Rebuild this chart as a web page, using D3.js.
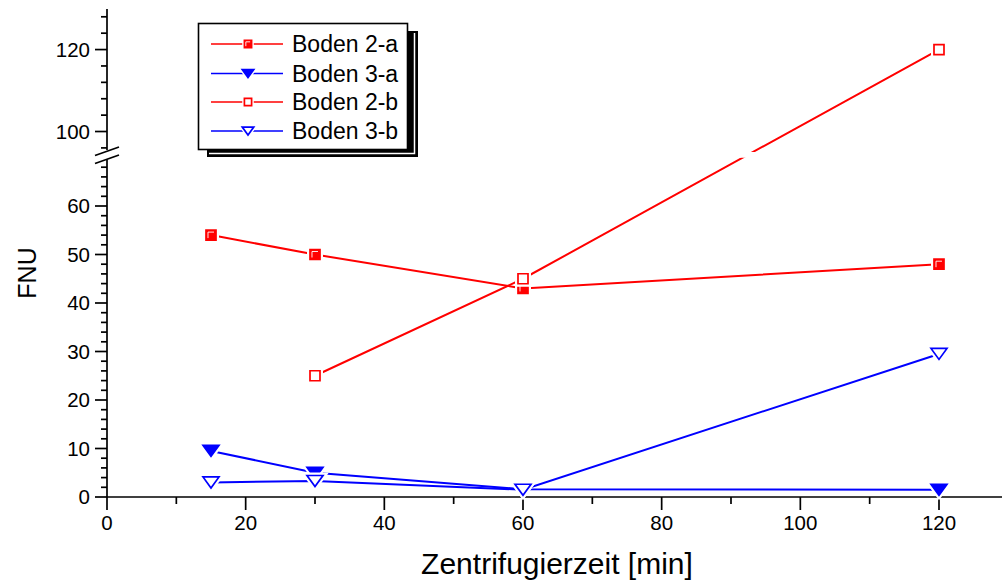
<!DOCTYPE html>
<html>
<head>
<meta charset="utf-8">
<script src="https://cdn.jsdelivr.net/npm/d3@7"></script>
<style>
  html, body { margin: 0; padding: 0; background: #fff; }
  svg { display: block; font-family: "Liberation Sans", Arial, sans-serif; }
</style>
</head>
<body>
<svg id="chart" width="1002" height="581"></svg>
<script>
// Zentrifugierzeit (min) and turbidity (FNU) per soil sample
const times = [15, 30, 60, 120];
const boden2a = [54, 50, 43, 48];
const boden3a = [9.5, 5, 1.6, 1.5];
const times2b = [30, 60, 120];
const boden2b = [25, 45, 120];
const boden3b = [3, 3.3, 1.5, 29.5];

const xTickValues = [0, 20, 40, 60, 80, 100, 120];
const yTickLower = [0, 10, 20, 30, 40, 50, 60];
const yTickUpper = [100, 120];
const legendLabels = ["Boden 2-a", "Boden 3-a", "Boden 2-b", "Boden 3-b"];

const RED = "#ff0000", BLUE = "#0000ff";

const svg = d3.select("#chart");

// x scale, y scale with an axis break between 70 and 95
const x = d3.scaleLinear().domain([0, 130]).range([107, 107 + 130 * 6.9333]);
const y = d3.scaleLinear().domain([0, 70, 95, 130]).range([497, 157.5, 152, 8.6]);

const gapTop = 152, gapBottom = 157.8;

// ---- axes ----
const axes = svg.append("g").attr("stroke", "#000").attr("stroke-width", 1.7);
const x0 = x(0);
// x axis line
axes.append("line").attr("x1", x0).attr("x2", 1002).attr("y1", y(0)).attr("y2", y(0));
// x ticks
d3.range(0, 130, 10).forEach(v => {
  const major = v % 20 === 0;
  axes.append("line").attr("x1", x(v)).attr("x2", x(v))
    .attr("y1", y(0)).attr("y2", y(0) + (major ? 13 : 7));
});
// y axis, lower and upper segments
axes.append("line").attr("x1", x0).attr("x2", x0).attr("y1", y(0)).attr("y2", 159.5);
axes.append("line").attr("x1", x0).attr("x2", x0).attr("y1", 150).attr("y2", 9);
// y ticks lower
d3.range(0, 70, 2).forEach(v => {
  const major = v % 10 === 0;
  axes.append("line").attr("x1", x0).attr("x2", x0 - (major ? 12 : 6))
    .attr("y1", y(v)).attr("y2", y(v));
});
// y ticks upper
d3.range(96, 130, 4).forEach(v => {
  const major = v % 20 === 0;
  axes.append("line").attr("x1", x0).attr("x2", x0 - (major ? 12 : 6))
    .attr("y1", y(v)).attr("y2", y(v));
});
// break marks
axes.append("line").attr("x1", 95).attr("y1", 155.5).attr("x2", 119).attr("y2", 147);
axes.append("line").attr("x1", 95).attr("y1", 163.5).attr("x2", 119).attr("y2", 155);

// tick labels
const lbl = svg.append("g").attr("fill", "#000").attr("font-size", 20.5);
xTickValues.forEach(v => {
  lbl.append("text").attr("x", x(v)).attr("y", 530).attr("text-anchor", "middle").text(v);
});
yTickLower.concat(yTickUpper).forEach(v => {
  lbl.append("text").attr("x", 90).attr("y", y(v) + 7).attr("text-anchor", "end").text(v);
});

// axis titles
svg.append("text").attr("x", 557).attr("y", 574).attr("text-anchor", "middle")
  .attr("font-size", 30).text("Zentrifugierzeit [min]");
svg.append("text").attr("transform", "translate(36,273) rotate(-90)")
  .attr("text-anchor", "middle").attr("font-size", 25).text("FNU");

// ---- data ----
const clip = svg.append("clipPath").attr("id", "brk");
clip.append("rect").attr("x", 0).attr("y", 0).attr("width", 1002).attr("height", gapTop);
clip.append("rect").attr("x", 0).attr("y", gapBottom).attr("width", 1002).attr("height", 581 - gapBottom);

const line = d3.line().x(d => x(d[0])).y(d => y(d[1]));

// marker shapes
function markerPath(type, s) {
  if (type === "tri") {
    const w = 8 * s, h = 5.5 * s;
    return `M${-w},${-h}L${w},${-h}L0,${h}Z`;
  }
  const w = 5 * s, h = 5 * s;
  return `M${-w},${-h}H${w}V${h}H${-w}Z`;
}

function drawMarker(g, type, filled, color, cx, cy, s) {
  // white halo keeps the connecting line off the marker
  g.append("path").attr("d", markerPath(type, s)).attr("transform", `translate(${cx},${cy})`)
    .attr("fill", "#fff").attr("stroke", "#fff").attr("stroke-width", 6 * s);
  g.append("path").attr("d", markerPath(type, s)).attr("transform", `translate(${cx},${cy})`)
    .attr("fill", filled ? color : "#fff").attr("stroke", color).attr("stroke-width", 1.7)
    .attr("stroke-linejoin", "miter");
  if (filled && type === "sq") {
    const k = 3 * s;
    g.append("path").attr("d", `M${cx - k},${cy + k}V${cy - k}H${cx + k}`)
      .attr("fill", "none").attr("stroke", "#fff").attr("stroke-width", 0.9);
  }
}

const series = [
  { xs: times, ys: boden2a, color: RED, type: "sq", filled: true },
  { xs: times, ys: boden3a, color: BLUE, type: "tri", filled: true },
  { xs: times2b, ys: boden2b, color: RED, type: "sq", filled: false },
  { xs: times, ys: boden3b, color: BLUE, type: "tri", filled: false }
];

const dataG = svg.append("g");
series.forEach(s => {
  const pts = s.xs.map((t, i) => [t, s.ys[i]]);
  dataG.append("path").datum(pts).attr("d", line).attr("fill", "none")
    .attr("stroke", s.color).attr("stroke-width", 2).attr("clip-path", "url(#brk)");
});
series.forEach(s => {
  s.xs.forEach((t, i) => drawMarker(dataG, s.type, s.filled, s.color, x(t), y(s.ys[i]), 1));
});

// ---- legend ----
const lg = svg.append("g");
// shadow
lg.append("rect").attr("x", 207).attr("y", 31).attr("width", 211).attr("height", 126).attr("fill", "#000");
lg.append("path").attr("d", "M209,153.5H414.5V33").attr("fill", "none").attr("stroke", "#fff").attr("stroke-width", 1.5);
lg.append("rect").attr("x", 198.5).attr("y", 23.5).attr("width", 209).attr("height", 126)
  .attr("fill", "#fff").attr("stroke", "#000").attr("stroke-width", 1.6);
const rowsY = [44, 73.5, 102, 131];
legendLabels.forEach((name, i) => {
  const s = series[i];
  const cy = rowsY[i];
  lg.append("line").attr("x1", 211).attr("x2", 283).attr("y1", cy).attr("y2", cy)
    .attr("stroke", s.color).attr("stroke-width", 1.7);
  drawMarker(lg, s.type, s.filled, s.color, 248, cy, 0.72);
  lg.append("text").attr("x", 292).attr("y", cy + 8).attr("font-size", 23).attr("fill", "#000").text(name);
});
</script>
</body>
</html>
